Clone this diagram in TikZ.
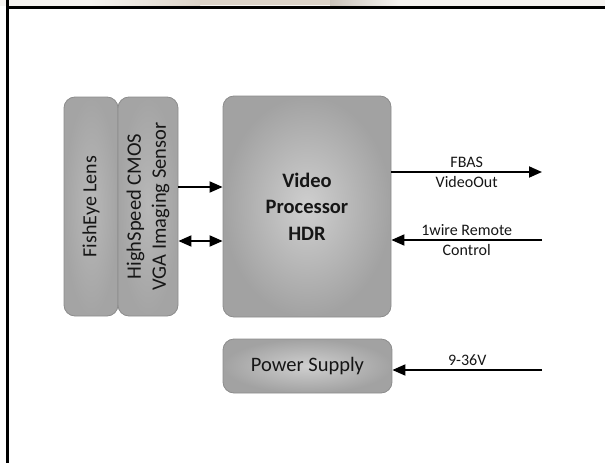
\documentclass[tikz,border=0pt]{standalone}
\usepackage{fontspec}
\setmainfont{Carlito}
\usetikzlibrary{arrows.meta,shadings}
\definecolor{boxedge}{HTML}{8C8C8C}
\definecolor{boxin}{HTML}{CFCFCF}
\definecolor{boxout}{HTML}{A2A2A2}
\definecolor{sidein}{HTML}{B8B8B8}
\definecolor{sideout}{HTML}{A4A4A4}
\definecolor{txt}{HTML}{161616}
\definecolor{beige}{HTML}{DCD3C8}
\definecolor{topband}{HTML}{F6F4F1}
\tikzset{
  blockbox/.style={draw=boxedge, line width=0.8pt, rounded corners=11pt,
    shading=radial, inner color=boxin, outer color=boxout, text=txt,
    align=center, inner sep=0pt},
  sidebox/.style={blockbox, inner color=sidein, outer color=sideout},
  arr/.style={line width=1.8pt, -{Triangle[length=13pt,width=11pt]}},
  darr/.style={line width=1.8pt, {Triangle[length=13pt,width=11pt]}-{Triangle[length=13pt,width=11pt]}},
  lbl/.style={font=\fontsize{16}{18}\selectfont, text=txt, inner sep=0pt}
}
\begin{document}
\begin{tikzpicture}[x=1pt,y=-1pt]
\useasboundingbox (0,0) rectangle (605,463);
% top strip
\fill[topband] (0,0) rectangle (605,6);
\shade[left color=topband, right color=beige] (90,0) rectangle (200,5);
\fill[beige] (200,0) rectangle (330,5);
\shade[left color=beige!80!gray, right color=topband] (330,0) rectangle (400,5);
% frame lines
\fill[black] (6,6) rectangle (605,9);
\fill[black] (6,0) rectangle (9,463);
% blocks
\node[sidebox, minimum width=54pt, minimum height=219pt] (lens) at (91,206.5) {};
\node[rotate=90, text=txt, font=\fontsize{20}{25}\selectfont] (lenstxt) at (lens.center) {FishEye Lens};
\node[sidebox, minimum width=60pt, minimum height=219pt] (sensor) at (148,206.5) {};
\node[rotate=90, text=txt, align=center, font=\fontsize{20.5}{25}\selectfont] (sensortxt) at (sensor.center) {HighSpeed CMOS\\VGA Imaging Sensor};
\node[blockbox, minimum width=168pt, minimum height=221pt,
  font=\bfseries\fontsize{20.5}{26.5}\selectfont] (proc) at (307,206.5) {Video\\Processor\\HDR};
\node[blockbox, minimum width=169pt, minimum height=54pt,
  font=\fontsize{20.5}{25}\selectfont] (power) at (307.5,366) {Power Supply};
% free ends
\coordinate (vout) at (542,172);
\coordinate (remote) at (542,240);
\coordinate (supply) at (542,370);
% connectors
\draw[arr] (sensor.east |- 0,187) -- (proc.west |- 0,187);
\draw[darr] (sensor.east |- 0,241) -- (proc.west |- 0,241);
\draw[arr] (proc.east |- vout) -- node[lbl, above=3pt] {FBAS} node[lbl, below=3pt] {VideoOut} (vout);
\draw[arr] (remote) -- node[lbl, above=3pt] {1wire Remote} node[lbl, below=3pt] {Control} (proc.east |- remote);
\draw[arr] (supply) -- node[lbl, above=3pt] {9-36V} (power.east |- supply);
\end{tikzpicture}
\end{document}
